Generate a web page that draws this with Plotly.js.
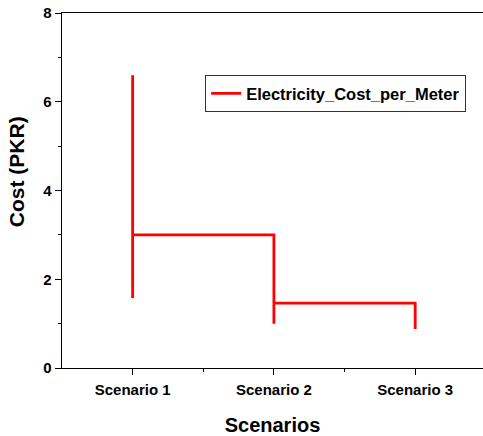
<!DOCTYPE html>
<html>
<head>
<meta charset="utf-8">
<script src="https://cdn.plot.ly/plotly-3.0.1.min.js"></script>
<style>html,body{margin:0;padding:0;background:#fff;overflow:hidden}#chart{width:483px;height:436px}</style>
</head>
<body>
<div id="chart"></div>
<script>
// Data
var scenarioLabels = ['Scenario 1', 'Scenario 2', 'Scenario 3'];
var scenarioPos = [1, 2, 3];
var xValues = [1, 1, 1, 1, 2, 2, 2, 2, 3, 3];
var costValues = [6.6, 1.58, 6.0, 3.0, 3.0, 1.98, 1.0, 1.46, 1.46, 0.88];
var seriesName = 'Electricity_Cost_per_Meter';
var xTitle = 'Scenarios';
var yTitle = 'Cost (PKR)';

var FONT = 'Arial, "Liberation Sans", sans-serif';

var trace = {
  x: xValues,
  y: costValues,
  type: 'scatter',
  mode: 'lines',
  name: seriesName,
  line: {color: '#ff0000', width: 2.8},
  showlegend: true
};

var layout = {
  width: 483,
  height: 436,
  margin: {l: 62, r: 0, t: 13, b: 68},
  paper_bgcolor: '#fff',
  plot_bgcolor: '#fff',
  font: {family: FONT, color: '#000'},
  showlegend: true,
  legend: {
    x: 0.34, y: 0.825, xanchor: 'left', yanchor: 'top',
    bordercolor: '#333', borderwidth: 1, bgcolor: '#fff',
    font: {family: FONT, size: 16.5, color: '#000', weight: 'bold'},
    tracegroupgap: 0
  },
  xaxis: {
    range: [0.5, 3.48],
    tickmode: 'array',
    tickvals: scenarioPos,
    ticktext: scenarioLabels,
    ticks: 'outside', ticklen: 6, tickwidth: 1, tickcolor: '#000',
    ticklabelstandoff: 2,
    minor: {tickvals: [1.5, 2.5], ticks: 'outside', ticklen: 3, tickwidth: 1, tickcolor: '#000'},
    showline: true, linecolor: '#000', linewidth: 1.3, mirror: true,
    showgrid: false, zeroline: false,
    tickfont: {family: FONT, size: 15, color: '#000', weight: 'bold'},
    title: {text: xTitle, font: {family: FONT, size: 20, color: '#000', weight: 'bold'}, standoff: 20}
  },
  yaxis: {
    range: [0, 8],
    tickmode: 'array',
    tickvals: [0, 2, 4, 6, 8],
    ticks: 'outside', ticklen: 6, tickwidth: 1, tickcolor: '#000',
    minor: {tickvals: [1, 3, 5, 7], ticks: 'outside', ticklen: 3, tickwidth: 1, tickcolor: '#000'},
    showline: true, linecolor: '#000', linewidth: 1.3, mirror: true,
    showgrid: false, zeroline: false,
    tickfont: {family: FONT, size: 15, color: '#000', weight: 'bold'}
  },
  annotations: [{
    text: yTitle, textangle: -90,
    xref: 'paper', yref: 'paper', x: -0.109, y: 0.552,
    xanchor: 'center', yanchor: 'middle', showarrow: false,
    font: {family: FONT, size: 21, color: '#000', weight: 'bold'}
  }]
};

Plotly.newPlot('chart', [trace], layout, {displayModeBar: false, staticPlot: true});
</script>
</body>
</html>
